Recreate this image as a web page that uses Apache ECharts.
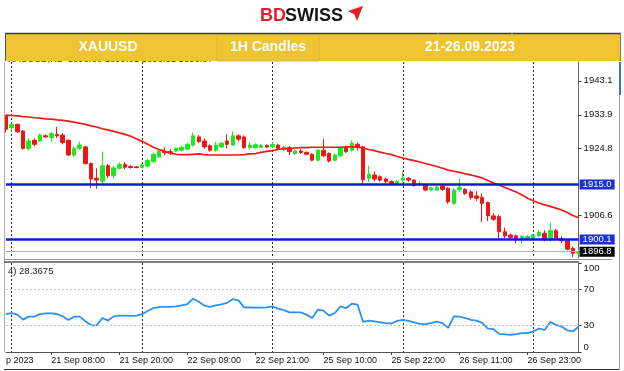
<!DOCTYPE html>
<html><head><meta charset="utf-8">
<script src="https://cdn.jsdelivr.net/npm/echarts@6/dist/echarts.min.js"></script>
<style>html,body{margin:0;padding:0;background:#fff}#c{width:624px;height:371px}</style>
</head><body><div id="c"></div>
<script>
// ---- categories (hourly bars) ----
const tradingDays = ['21 Sep','22 Sep','25 Sep','26 Sep'];
const categories = ['20 Sep 23:00'];
tradingDays.forEach(d => { for (let h = 1; h <= 23; h++) categories.push(d + ' ' + String(h).padStart(2,'0') + ':00'); });
for (let h = 1; h <= 9; h++) categories.push('27 Sep ' + String(h).padStart(2,'0') + ':00');

const firstLabelText = 'p 2023';
const tickLabels = ['21 Sep 08:00','21 Sep 20:00','22 Sep 09:00','22 Sep 21:00','25 Sep 10:00','25 Sep 22:00','26 Sep 11:00','26 Sep 23:00'];
const gridLineCats = ['21 Sep 01:00','22 Sep 01:00','25 Sep 01:00','26 Sep 01:00','27 Sep 01:00'];
const priceTicks = [1906.6, 1924.8, 1933.9, 1943.1];
const rsiTicks = [0, 30, 70, 100];
const rsiLevels = [30, 70];
const hLineBlue = [1915.0, 1900.1];
const lastPrice = 1896.8;

// ---- XAUUSD H1 OHLC ----
const open = [1933.6,1930.4,1931.3,1929.5,1924.8,1927.0,1926.8,1928.2,1927.7,1928.6,
1928.4,1927.0,1923.0,1924.8,1925.2,1920.7,1916.7,1915.9,1920.1,1917.4,
1919.4,1920.4,1919.9,1919.8,1919.7,1920.0,1921.2,1922.5,1924.0,1923.9,
1924.1,1924.3,1924.6,1925.7,1927.9,1926.8,1925.5,1924.3,1925.2,1926.8,
1925.7,1928.2,1927.9,1925.0,1925.0,1925.1,1925.6,1925.3,1925.7,1924.4,
1925.0,1923.4,1924.1,1923.7,1923.2,1921.6,1924.3,1923.4,1921.6,1922.8,
1925.0,1924.3,1925.9,1925.2,1916.7,1917.6,1917.1,1916.5,1915.8,1915.2,
1916.2,1916.7,1916.2,1915.0,1914.9,1913.5,1913.5,1914.6,1914.0,1909.9,
1913.6,1913.7,1913.0,1911.9,1911.5,1910.1,1906.5,1906.3,1902.2,1901.3,
1901.1,1900.4,1900.4,1900.4,1901.1,1901.8,1900.0,1902.5,1900.4,1899.8,
1897.7,1896.4];
const close = [1930.0,1931.3,1929.3,1924.8,1926.8,1925.9,1928.4,1927.9,1928.8,1928.2,
1926.4,1923.0,1924.8,1925.7,1920.7,1916.5,1916.2,1920.1,1917.4,1919.5,
1920.4,1919.7,1919.6,1919.6,1920.3,1921.5,1923.2,1924.1,1923.6,1923.6,
1924.8,1925.1,1925.9,1928.2,1926.6,1925.2,1924.3,1925.7,1926.2,1925.9,
1928.2,1927.3,1925.0,1925.7,1925.8,1925.6,1925.2,1925.9,1924.8,1925.1,
1923.9,1924.1,1923.7,1923.2,1921.6,1924.3,1922.8,1921.4,1923.0,1924.8,
1923.9,1926.2,1925.0,1916.3,1917.8,1916.5,1916.2,1915.8,1915.2,1915.8,
1916.8,1916.2,1914.7,1915.2,1913.5,1914.1,1914.3,1913.7,1910.3,1913.5,
1914.3,1912.6,1911.5,1911.3,1909.9,1906.5,1905.6,1902.2,1901.1,1900.7,
1900.4,1900.9,1900.9,1901.3,1902.0,1900.0,1902.5,1900.4,1899.8,1897.5,
1896.4,1896.8];
const low = [1929.1,1929.3,1929.0,1924.5,1924.2,1925.4,1926.6,1927.6,1926.6,1927.6,
1925.9,1922.7,1922.5,1924.4,1920.4,1914.1,1913.9,1914.9,1916.8,1916.6,
1919.1,1919.1,1919.3,1919.4,1919.4,1919.7,1920.9,1922.2,1922.9,1923.0,
1923.7,1924.0,1924.3,1925.3,1926.3,1924.7,1923.9,1923.9,1924.9,1924.8,
1925.5,1926.7,1924.7,1924.4,1924.7,1924.9,1924.9,1925.0,1924.5,1924.0,
1923.0,1923.1,1923.3,1922.9,1921.3,1921.2,1922.4,1921.0,1921.3,1922.5,
1923.6,1924.0,1924.2,1915.1,1915.7,1915.8,1915.8,1915.4,1914.9,1914.9,
1915.6,1915.8,1914.4,1914.6,1913.2,1913.2,1913.2,1913.3,1909.8,1909.5,
1913.0,1912.2,1910.9,1910.6,1904.9,1905.1,1905.2,1900.5,1900.5,1900.3,
1899.1,1899.0,1900.1,1900.1,1900.8,1899.6,1899.6,1900.0,1899.1,1897.2,
1895.4,1896.1];
const high = [1933.9,1931.6,1931.5,1929.7,1927.5,1927.5,1928.8,1928.6,1929.2,1930.6,
1928.9,1927.2,1925.4,1926.6,1925.5,1921.0,1919.4,1923.9,1920.6,1920.0,
1921.0,1921.1,1920.2,1920.0,1920.7,1921.9,1923.6,1924.6,1925.1,1924.6,
1925.1,1925.5,1926.3,1929.1,1928.4,1927.5,1925.9,1926.6,1926.6,1928.6,
1929.4,1928.6,1928.3,1926.4,1926.2,1926.0,1925.9,1926.6,1926.1,1925.5,
1925.4,1924.5,1924.5,1924.0,1923.5,1924.6,1927.3,1923.7,1923.4,1925.2,
1925.5,1927.0,1926.4,1925.5,1920.1,1918.6,1917.5,1916.9,1916.1,1916.2,
1918.7,1917.0,1916.5,1915.9,1915.2,1914.4,1914.7,1915.0,1914.3,1914.0,
1916.6,1914.0,1913.5,1913.2,1912.6,1910.4,1907.2,1906.8,1903.3,1901.7,
1901.5,1901.3,1901.3,1901.6,1902.6,1902.6,1904.6,1903.0,1901.0,1900.1,
1898.2,1897.3];

// ---- moving average (red) ----
const ma = [1933.8,1933.7,1933.6,1933.4,1933.3,1933.1,1933.0,1932.8,1932.7,1932.5,
1932.4,1932.2,1931.9,1931.6,1931.3,1930.9,1930.6,1930.1,1929.8,1929.4,
1929.0,1928.6,1928.1,1927.4,1926.7,1925.9,1925.1,1924.5,1924.0,1923.5,
1923.2,1923.1,1923.1,1923.2,1923.3,1923.1,1923.0,1923.0,1923.0,1923.0,
1923.0,1923.0,1923.1,1923.3,1923.4,1923.7,1924.0,1924.2,1924.5,1924.7,
1924.8,1924.9,1925.0,1925.0,1925.1,1925.1,1925.1,1925.1,1925.1,1925.1,
1925.2,1925.2,1925.2,1924.9,1924.5,1924.2,1923.8,1923.4,1923.1,1922.6,
1922.2,1921.8,1921.5,1921.1,1920.7,1920.3,1919.9,1919.4,1918.9,1918.6,
1918.3,1917.9,1917.6,1917.2,1916.8,1916.1,1915.4,1914.9,1914.2,1913.6,
1913.0,1912.2,1911.3,1910.6,1910.0,1909.5,1909.1,1908.6,1908.1,1907.4,
1906.6,1906.0];

// ---- RSI(14) ----
const rsi = [42.7,43.8,42.0,36.4,39.7,39.7,42.5,43.3,43.5,42.7,
40.1,36.0,39.7,39.7,34.5,30.0,30.0,38.2,35.3,40.0,
40.8,40.9,40.5,40.8,42.5,46.0,49.4,50.5,50.6,50.6,
51.2,52.4,53.9,59.9,56.5,52.0,50.8,52.4,53.6,55.2,
59.5,58.0,50.2,50.0,49.8,49.9,50.1,51.3,48.7,47.0,
44.6,44.6,44.6,42.0,38.2,47.6,46.5,40.9,43.8,51.3,
49.4,54.3,53.2,33.8,35.3,34.5,33.2,32.5,32.0,35.0,
36.2,35.0,33.4,31.5,31.2,32.5,34.0,32.5,27.1,40.1,
39.7,38.2,36.2,35.3,32.7,26.3,25.6,20.3,19.8,19.4,
20.0,21.1,21.1,23.3,26.3,24.8,33.8,30.4,28.5,24.4,
23.3,28.4];
const rsiText = '4) 28.3675';
const infoText = 'XAUUSD,H1  1896.88 1899.01 1896.61 1896.87';

const candleData = categories.map((_, i) => [open[i], close[i], low[i], high[i]]);
const FONT = 'Liberation Sans';
const UP = '#1EE81E', DOWN = '#F01414';

const isGridLine = (i, v) => gridLineCats.includes(v);
const isLabel = (i, v) => i === 0 || tickLabels.includes(v);

const chart = echarts.init(document.getElementById('c'), null, {renderer: 'canvas'});
chart.setOption({
  animation: false,
  backgroundColor: '#ffffff',
  textStyle: {fontFamily: FONT},
  grid: [
    {left: 6, width: 572.6, top: 62, height: 196},
    {left: 6, width: 572.6, top: 263, height: 89}
  ],
  xAxis: [
    {type: 'category', gridIndex: 0, data: categories, boundaryGap: false,
     axisLine: {show: false}, axisTick: {show: false}, axisLabel: {show: false},
     splitLine: {show: true, interval: isGridLine, lineStyle: {color: '#2a2a2a', type: [2, 2], width: 1}}},
    {type: 'category', gridIndex: 1, data: categories, boundaryGap: false,
     axisLine: {show: true, lineStyle: {color: '#555', width: 1}},
     axisTick: {show: true, interval: (i, v) => i !== 0 && tickLabels.includes(v), length: 3, lineStyle: {color: '#444'}},
     axisLabel: {interval: isLabel, align: 'left', fontSize: 9, color: '#111', margin: 4, fontFamily: FONT,
       formatter: (v, i) => (v === categories[0] ? firstLabelText : v)},
     splitLine: {show: true, interval: isGridLine, lineStyle: {color: '#2a2a2a', type: [2, 2], width: 1}}}
  ],
  yAxis: [
    {type: 'value', gridIndex: 0, position: 'right', min: 1895.1, max: 1948.2, scale: true,
     splitLine: {show: false},
     axisLine: {show: true, lineStyle: {color: '#666', width: 1}},
     axisTick: {show: true, customValues: priceTicks, length: 3, lineStyle: {color: '#444'}},
     axisLabel: {customValues: priceTicks, formatter: v => v.toFixed(1), fontSize: 9.5, color: '#111', margin: 5, fontFamily: FONT}},
    {type: 'value', gridIndex: 1, position: 'right', min: 0, max: 100,
     splitLine: {show: false},
     axisLine: {show: true, lineStyle: {color: '#666', width: 1}},
     axisTick: {show: true, customValues: rsiTicks, length: 3, lineStyle: {color: '#444'}},
     axisLabel: {customValues: rsiTicks, fontSize: 9.5, color: '#111', margin: 5, fontFamily: FONT,
       verticalAlignMinLabel: 'bottom', verticalAlignMaxLabel: 'top'}}
  ],
  series: [
    {type: 'candlestick', xAxisIndex: 0, yAxisIndex: 0, data: candleData, barWidth: 4, clip: false, z: 3,
     itemStyle: {color: UP, color0: DOWN, borderColor: UP, borderColor0: DOWN, borderWidth: 1},
     markLine: {silent: true, animation: false, symbol: ['none', 'none'], z: 6,
       data: [
         ...hLineBlue.map(v => ({yAxis: v,
           lineStyle: {color: '#0b1fd0', width: 2.5, type: 'solid'},
           label: {show: true, position: 'end', distance: 1, formatter: p => p.value.toFixed(1),
             backgroundColor: '#1a30d8', color: '#fff', fontSize: 9.5, padding: [0, 3, 0, 3], lineHeight: 10, fontFamily: FONT}})),
         {yAxis: lastPrice, lineStyle: {color: '#b0b0b0', width: 1, type: 'solid'},
          label: {show: true, position: 'end', distance: 1, formatter: p => p.value.toFixed(1),
            backgroundColor: '#000', color: '#fff', fontSize: 9.5, padding: [0, 3, 0, 3], lineHeight: 10, fontFamily: FONT}}
       ]}},
    {type: 'line', xAxisIndex: 0, yAxisIndex: 0, data: ma, showSymbol: false, symbol: 'none', z: 4,
     lineStyle: {color: '#f01818', width: 1.7}},
    {type: 'line', xAxisIndex: 1, yAxisIndex: 1, data: rsi, showSymbol: false, symbol: 'none', z: 4,
     lineStyle: {color: '#2a92f5', width: 1.8},
     markLine: {silent: true, animation: false, symbol: ['none', 'none'], label: {show: false},
       lineStyle: {color: '#c4c4c4', type: [2, 2], width: 1},
       data: rsiLevels.map(v => ({yAxis: v}))}}
  ],
  graphic: [
    {type: 'text', left: 8, top: 54, z: 1, style: {text: infoText, fill: '#333', font: '9.5px ' + FONT}},
    {type: 'text', left: 8, top: 266, z: 5, style: {text: rsiText, fill: '#222', font: '9.5px ' + FONT}},
    // frame lines
    {type: 'line', z: 5, shape: {x1: 4.5, y1: 62, x2: 4.5, y2: 352}, style: {stroke: '#b0b0b0', lineWidth: 1}},
    {type: 'line', z: 5, shape: {x1: 4, y1: 259.5, x2: 612, y2: 259.5}, style: {stroke: '#9a9a9a', lineWidth: 1}},
    {type: 'line', z: 5, shape: {x1: 4, y1: 262, x2: 579, y2: 262}, style: {stroke: '#555', lineWidth: 1.5}},
    {type: 'line', z: 5, shape: {x1: 619.5, y1: 62, x2: 619.5, y2: 370}, style: {stroke: '#a0a0a0', lineWidth: 1}},
    {type: 'line', z: 5, shape: {x1: 4, y1: 369.5, x2: 619, y2: 369.5}, style: {stroke: '#333', lineWidth: 1}},
    {type: 'rect', z: 5, shape: {x: 619, y: 62, width: 2, height: 33}, style: {fill: '#3d6fd6'}},
    // banner
    {type: 'rect', z: 100, shape: {x: 5, y: 33, width: 616, height: 28}, style: {fill: '#EFC332'}},
    {type: 'rect', z: 101, shape: {x: 217, y: 34, width: 102, height: 27}, style: {fill: '#EEC334', stroke: '#E2B52E', lineWidth: 1}},
    {type: 'line', z: 102, shape: {x1: 5, y1: 33.5, x2: 621, y2: 33.5}, style: {stroke: '#3c3c3c', lineWidth: 1.5}},
    {type: 'line', z: 102, shape: {x1: 5.5, y1: 33, x2: 5.5, y2: 61}, style: {stroke: '#555', lineWidth: 1}},
    {type: 'line', z: 102, shape: {x1: 620.5, y1: 33, x2: 620.5, y2: 61}, style: {stroke: '#777', lineWidth: 1}},
    {type: 'line', z: 102, shape: {x1: 438, y1: 33, x2: 438, y2: 36}, style: {stroke: '#bbb', lineWidth: 1}},
    {type: 'line', z: 102, shape: {x1: 512, y1: 33, x2: 512, y2: 36}, style: {stroke: '#bbb', lineWidth: 1}},
    {type: 'text', z: 103, x: 108, y: 47, style: {text: 'XAUUSD', fill: '#fff', font: 'bold 14px ' + FONT, textAlign: 'center', textVerticalAlign: 'middle'}},
    {type: 'text', z: 103, x: 268, y: 47, style: {text: '1H Candles', fill: '#fff', font: 'bold 14px ' + FONT, textAlign: 'center', textVerticalAlign: 'middle'}},
    {type: 'text', z: 103, x: 470, y: 47, style: {text: '21-26.09.2023', fill: '#fff', font: 'bold 14px ' + FONT, textAlign: 'center', textVerticalAlign: 'middle'}},
    // logo
    {type: 'text', z: 103, x: 260, y: 16.5, style: {text: 'BD', fill: '#E31E26', font: 'bold 18px ' + FONT, textAlign: 'left', textVerticalAlign: 'middle'}},
    {type: 'text', z: 103, x: 285, y: 16.5, style: {text: 'SWISS', fill: '#151515', font: 'bold 18px ' + FONT, textAlign: 'left', textVerticalAlign: 'middle'}},
    {type: 'polygon', z: 103, shape: {points: [[348, 11], [363, 6], [357, 21], [354.5, 14.5]]}, style: {fill: '#E31E26'}}
  ]
});
</script>
</body></html>
